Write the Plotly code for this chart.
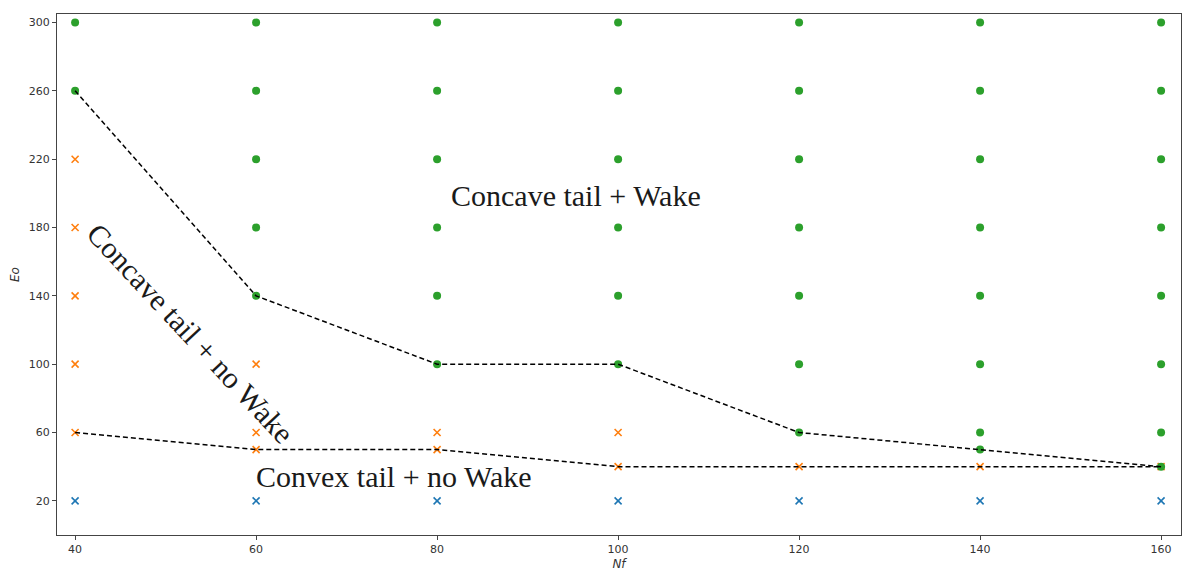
import plotly.graph_objects as go

# regime map: Nf vs Eo
nf_convex = [40, 60, 80, 100, 120, 140, 160]
eo_convex = [20, 20, 20, 20, 20, 20, 20]

nf_no_wake = [40, 40, 40, 40, 40, 60, 60, 60, 80, 80, 100, 100, 120, 140, 160]
eo_no_wake = [60, 100, 140, 180, 220, 50, 60, 100, 50, 60, 40, 60, 40, 40, 40]

nf_wake = ([40, 40] + [60] * 5 + [80] * 6 + [100] * 6 + [120] * 7 + [140] * 8 + [160] * 8)
eo_wake = ([260, 300]
           + [140, 180, 220, 260, 300]
           + [100, 140, 180, 220, 260, 300]
           + [100, 140, 180, 220, 260, 300]
           + [60, 100, 140, 180, 220, 260, 300]
           + [50, 60, 100, 140, 180, 220, 260, 300]
           + [40, 60, 100, 140, 180, 220, 260, 300])

# boundaries
nf_upper = [40, 60, 80, 100, 120, 140, 160]
eo_upper = [260, 140, 100, 100, 60, 50, 40]
nf_lower = [40, 60, 80, 100, 120, 140, 160]
eo_lower = [60, 50, 50, 40, 40, 40, 40]

x_ticks = [40, 60, 80, 100, 120, 140, 160]
y_ticks = [20, 60, 100, 140, 180, 220, 260, 300]

fig = go.Figure()

fig.add_trace(go.Scatter(x=nf_convex, y=eo_convex, mode='markers',
                         marker=dict(symbol='x-thin', size=7, color='#1f77b4',
                                     line=dict(width=1.6, color='#1f77b4'))))
fig.add_trace(go.Scatter(x=nf_no_wake, y=eo_no_wake, mode='markers',
                         marker=dict(symbol='x-thin', size=7, color='#ff7f0e',
                                     line=dict(width=1.6, color='#ff7f0e'))))
fig.add_trace(go.Scatter(x=nf_wake, y=eo_wake, mode='markers',
                         marker=dict(symbol='circle', size=8, color='#2ca02c')))
fig.add_trace(go.Scatter(x=nf_upper, y=eo_upper, mode='lines',
                         line=dict(color='black', width=1.5, dash='5px,3px')))
fig.add_trace(go.Scatter(x=nf_lower, y=eo_lower, mode='lines',
                         line=dict(color='black', width=1.5, dash='5px,3px')))

text_font = dict(family='Liberation Serif, DejaVu Serif, serif', size=30, color='#1a1a1a')
fig.add_annotation(x=95.3, y=199, text='Concave tail + Wake', showarrow=False, font=text_font)
fig.add_annotation(x=52.8, y=118, text='Concave tail + no Wake', showarrow=False,
                   textangle=47, font=text_font)
fig.add_annotation(x=75.2, y=34, text='Convex tail + no Wake', showarrow=False, font=text_font)

axis_common = dict(showgrid=False, zeroline=False, showline=True, mirror=True,
                   linecolor='#444', linewidth=1, ticks='outside', ticklen=4,
                   tickcolor='#444', tickfont=dict(family='DejaVu Sans', size=11, color='#333'))

fig.update_layout(
    width=1196, height=577,
    plot_bgcolor='white', paper_bgcolor='white',
    showlegend=False,
    margin=dict(l=49, r=23, t=6, b=50),
    xaxis=dict(range=[38, 162.2], tickvals=x_ticks,
               title=dict(text='<i>Nf</i>', standoff=4,
                          font=dict(family='DejaVu Sans', size=12, color='#333')),
               **axis_common),
    yaxis=dict(range=[0, 305], tickvals=y_ticks,
               title=dict(text='<i>Eo</i>', standoff=6,
                          font=dict(family='DejaVu Sans', size=12, color='#333')),
               **axis_common),
)

fig.write_html("out.html")
